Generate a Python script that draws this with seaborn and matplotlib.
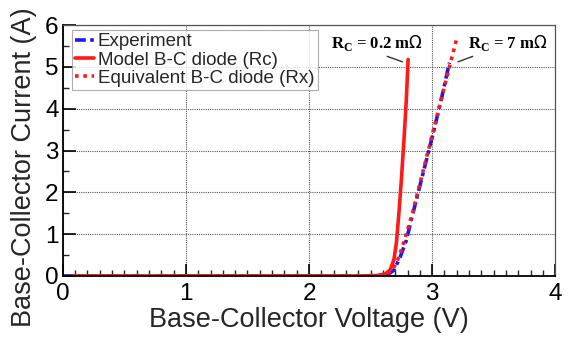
import matplotlib
matplotlib.use("Agg")
import matplotlib.pyplot as plt
import seaborn as sns
import numpy as np
from matplotlib.ticker import MultipleLocator

sns.set_theme(style="white")
plt.rcParams["font.family"] = ["Liberation Sans", "DejaVu Sans"]

# Measured I-V data
v_exp = [0.0, 2.55, 2.64, 2.69, 2.74, 2.79, 2.84, 2.90, 2.96, 3.02, 3.08, 3.14]
i_exp = [0.0, 0.0, 0.03, 0.14, 0.45, 0.85, 1.45, 2.15, 2.85, 3.55, 4.30, 5.10]

# Model B-C diode with Rc = 0.2 mOhm
v_model = [0.08, 2.40, 2.55, 2.62, 2.66, 2.69, 2.71, 2.73, 2.75, 2.77, 2.79, 2.805]
i_model = [0.0, 0.0, 0.01, 0.05, 0.15, 0.40, 0.80, 1.50, 2.30, 3.20, 4.20, 5.18]

# Equivalent B-C diode with Rx = 7 mOhm
v_equiv = [0.08, 2.55, 2.63, 2.68, 2.73, 2.78, 2.84, 2.90, 2.96, 3.02, 3.08, 3.14, 3.20]
i_equiv = [0.0, 0.0, 0.03, 0.15, 0.45, 0.90, 1.50, 2.20, 2.90, 3.60, 4.30, 5.00, 5.68]

x_ticks = [0, 1, 2, 3, 4]
y_ticks = [0, 1, 2, 3, 4, 5, 6]

fig = plt.figure(figsize=(5.76, 3.39), dpi=100)
ax = fig.add_axes([0.109, 0.186, 0.855, 0.740])

sns.lineplot(x=v_exp, y=i_exp, ax=ax, sort=False, color="#1a1aff", lw=2.6,
             linestyle=(0, (3, 1.2, 1, 1.2)), label="Experiment")
sns.lineplot(x=v_model, y=i_model, ax=ax, sort=False, color="#ff1a1a", lw=2.6,
             linestyle="-", label="Model B-C diode (Rc)")
sns.lineplot(x=v_equiv, y=i_equiv, ax=ax, sort=False, color="#ff1a1a", lw=2.6,
             linestyle=(0, (1, 1.3)), label="Equivalent B-C diode (Rx)")

ax.set_xlim(0, 4)
ax.set_ylim(0, 6)
ax.set_xticks(x_ticks)
ax.set_yticks(y_ticks)
ax.xaxis.set_minor_locator(MultipleLocator(0.1))
ax.yaxis.set_minor_locator(MultipleLocator(0.5))
ax.tick_params(axis="both", which="major", direction="in", length=9, width=1.2,
               labelsize=17.5, colors="black", bottom=True, left=True)
ax.tick_params(axis="x", which="major", pad=5)
ax.tick_params(axis="y", which="major", pad=3)
ax.tick_params(axis="both", which="minor", direction="in", length=4, width=1.0,
               bottom=True, left=True)

ax.grid(True, which="major", linestyle=(0, (1, 1)), color="#555555", lw=0.8)
for side in ("left", "bottom"):
    ax.spines[side].set_color("black")
    ax.spines[side].set_linewidth(1.3)
for side in ("top", "right"):
    ax.spines[side].set_color("#555555")
    ax.spines[side].set_linestyle((0, (1, 1)))
    ax.spines[side].set_linewidth(0.9)

ax.set_xlabel("Base-Collector Voltage (V)", fontsize=19.5)
ax.set_ylabel("Base-Collector Current (A)", fontsize=19.5)
ax.xaxis.set_label_coords(0.5, -0.125)
ax.yaxis.set_label_coords(-0.079, 0.434)
ax.yaxis.label.set_va("center")

leg = ax.legend(loc="upper left", bbox_to_anchor=(0.018, 0.982), fontsize=13.5,
                frameon=True, fancybox=False, edgecolor="#999999",
                handlelength=1.0, handletextpad=0.2, borderpad=0.2,
                labelspacing=0.05, borderaxespad=0.0)
leg.get_frame().set_linewidth(0.8)

# Leader-line labels for the two series-resistance values
ann_font = dict(family=["Liberation Serif", "DejaVu Serif"], fontsize=12,
                fontweight="bold", color="black")
ax.annotate(r"R$_{\mathregular{C}}$ = 0.2 m$\Omega$", xy=(2.76, 5.12), xytext=(2.18, 5.57),
            ha="left", va="center",
            arrowprops=dict(arrowstyle="-", color="#333333", lw=1.0,
                            shrinkA=0, shrinkB=0, relpos=(0.33, 0.3)),
            **ann_font)
ax.annotate(r"R$_{\mathregular{C}}$ = 7 m$\Omega$", xy=(3.21, 5.12), xytext=(3.29, 5.57),
            ha="left", va="center",
            arrowprops=dict(arrowstyle="-", color="#333333", lw=1.0,
                            shrinkA=0, shrinkB=0, relpos=(0.34, 0.25)),
            **ann_font)

fig.savefig("out.png", dpi=100)
